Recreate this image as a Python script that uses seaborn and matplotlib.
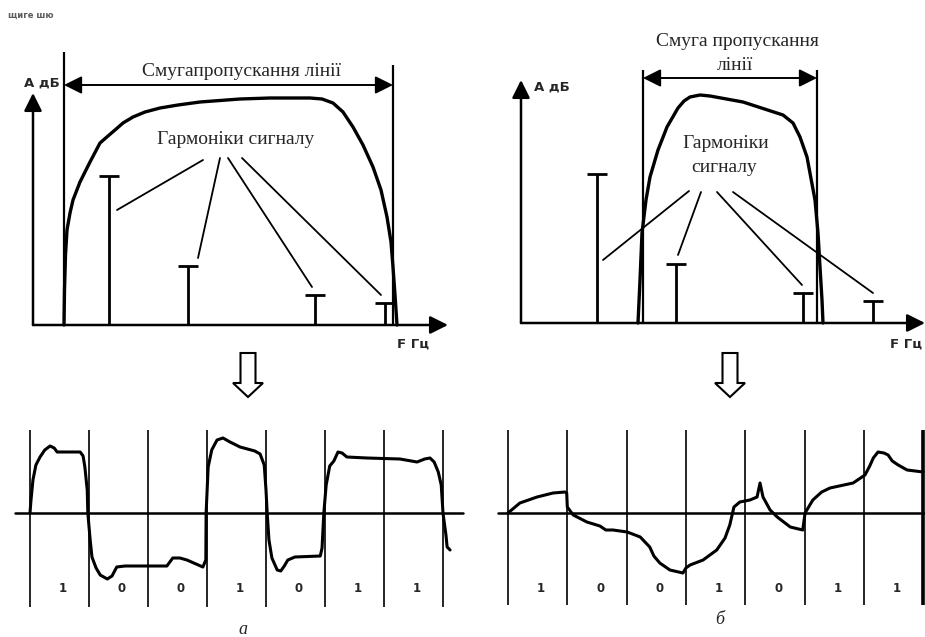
import matplotlib
matplotlib.use("Agg")
import matplotlib.pyplot as plt
import seaborn as sns
from matplotlib.patches import FancyArrow

sns.set_style("white")
plt.rcParams["font.family"] = ["Liberation Serif", "DejaVu Serif"]

W, H = 925, 637

# --- спектр: АЧХ лінії (а - широка смуга) ---
band_a_f = [31, 31.5, 32.5, 34, 37, 40, 47, 57, 67, 75, 82, 90, 100, 112, 127, 145, 167, 207,
            237, 277, 289, 300, 310, 320, 330, 340, 348, 354, 358, 360, 362, 364]
band_a_A = [0, 35, 70, 95, 112, 125, 143, 163, 182, 189, 195, 202, 208, 213, 217, 220, 223,
            226, 227, 227, 226, 222, 213, 198, 180, 158, 135, 108, 83, 58, 30, 0]
edges_a = [31, 360]

# --- спектр: АЧХ лінії (б - вузька смуга) ---
band_b_f = [117, 119, 121, 125, 129, 137, 146, 157, 163, 169, 179, 189, 222, 262, 272, 279,
            286, 294, 297, 299, 301, 302]
band_b_A = [0, 43, 90, 123, 146, 173, 196, 215, 222, 226, 228, 227, 221, 208, 200, 186,
            166, 123, 90, 56, 23, 0]
edges_b = [122, 296]

# гармоніки сигналу
harm_f = [76, 155, 282, 352]
harm_A = [149, 59, 30, 22]

# --- часові діаграми ---
bits = ["1", "0", "0", "1", "0", "1", "1"]

sig_a_t = [0, 0.017, 0.05, 0.10, 0.17, 0.25, 0.34, 0.41, 0.46, 0.54, 0.85, 0.90, 0.93, 0.97,
           0.98, 1.02, 1.05, 1.12, 1.19, 1.31, 1.39, 1.47, 1.61, 2.32, 2.42, 2.54, 2.66, 2.93,
           2.98, 2.985, 3.02, 3.08, 3.17, 3.27, 3.39, 3.56, 3.81, 3.90, 3.97, 4.0, 4.02, 4.05,
           4.10, 4.19, 4.25, 4.31, 4.37, 4.49, 4.92, 4.95, 4.98, 5.02, 5.08, 5.15, 5.22, 5.29,
           5.37, 5.71, 6.27, 6.56, 6.69, 6.78, 6.85, 6.92, 6.97, 7.0, 7.05, 7.07, 7.12]
sig_a_L = [0, 13, 33, 48, 56, 63, 67, 65, 61, 61, 61, 57, 46, 23,
           0, -27, -44, -55, -62, -66, -63, -54, -53, -53, -45, -45, -47, -54,
           -47, 0, 46, 63, 73, 75, 71, 66, 62, 59, 48, 23, 0, -27,
           -45, -57, -58, -53, -47, -44, -43, -35, 0, 28, 47, 52, 61, 60,
           56, 55, 54, 51, 54, 55, 51, 41, 28, 0, -22, -34, -37]

sig_b_t = [0, 0.20, 0.49, 0.76, 0.96, 0.99, 1.0, 1.10, 1.33, 1.55, 1.65, 1.77, 2.01, 2.23,
           2.39, 2.46, 2.56, 2.73, 2.95, 3.0, 3.07, 3.29, 3.52, 3.66, 3.74, 3.81, 3.91, 4.08,
           4.20, 4.25, 4.30, 4.42, 4.54, 4.76, 4.97, 5.01, 5.14, 5.29, 5.43, 5.82, 6.02, 6.10,
           6.16, 6.24, 6.34, 6.41, 6.48, 6.58, 6.73, 7.0]
sig_b_L = [0, 10, 16, 20, 21, 20, 6, -2, -9, -13, -17, -17, -19, -24,
           -34, -43, -50, -57, -60, -55, -52, -47, -37, -25, -12, 6, 11, 13,
           16, 30, 16, 3, -4, -14, -17, 0, 13, 21, 25, 30, 38, 47,
           55, 61, 60, 58, 52, 48, 43, 41]

fig = plt.figure(figsize=(W / 100, H / 100), dpi=100)


def layer(x0, y0, sx, sy):
    # осі на весь рисунок: точка (0,0) даних -> піксель (x0, y0)
    ax = fig.add_axes([0, 0, 1, 1])
    ax.set_xlim(-x0 / sx, (W - x0) / sx)
    ax.set_ylim(-(H - y0) / sy, y0 / sy)
    ax.axis("off")
    ax.patch.set_alpha(0)
    return ax


def arrow(ax, start, tip, style="-|>", lw=1.8):
    ax.annotate("", xy=tip, xytext=start,
                arrowprops=dict(arrowstyle=style + ",head_length=0.6,head_width=0.3",
                                lw=lw, color="black", mutation_scale=18,
                                shrinkA=0, shrinkB=0))


def spectrum(ax, f, A, edges, edge_top, arrow_y, x_tip, y_tip, leaders):
    arrow(ax, (0, 0), (x_tip, 0))
    arrow(ax, (0, 0), (0, y_tip))
    ax.vlines(edges[0], 0, edge_top[0], color="black", lw=1.6)
    ax.vlines(edges[1], 0, edge_top[1], color="black", lw=1.6)
    arrow(ax, (edges[0], arrow_y), (edges[1], arrow_y), style="<|-|>", lw=1.4)
    sns.lineplot(x=f, y=A, ax=ax, color="black", lw=2.4, sort=False, estimator=None,
                 solid_joinstyle="round", solid_capstyle="round")
    ax.vlines(harm_f, 0, harm_A, color="black", lw=2.0)
    ax.hlines(harm_A, [v - 10 for v in harm_f], [v + 10 for v in harm_f], color="black", lw=2.0)
    for (x1, y1), (x2, y2) in leaders:
        ax.plot([x1, x2], [y1, y2], color="black", lw=1.3)


ax_a = layer(33, 325, 1, 1)
spectrum(ax_a, band_a_f, band_a_A, edges_a, [273, 260], 240, 415, 232,
         [((170, 165), (84, 115)), ((187, 167), (165, 67)),
          ((195, 167), (279, 38)), ((209, 167), (348, 30))])

ax_b = layer(521, 323, 1, 1)
spectrum(ax_b, band_b_f, band_b_A, edges_b, [253, 253], 245, 404, 243,
         [((168, 132), (82, 63)), ((180, 131), (157, 68)),
          ((196, 131), (281, 38)), ((212, 131), (352, 30))])


def timing(ax, t, L, left, right, top, bottom):
    ax.plot([left, right], [0, 0], color="black", lw=1.8)
    ax.vlines(range(8), bottom, top, color="black", lw=1.2)
    for i, b in enumerate(bits):
        ax.text(i + 0.56, -75, b, ha="center", va="center", fontsize=8.5,
                fontweight="bold", family="DejaVu Sans")
    sns.lineplot(x=t, y=L, ax=ax, color="black", lw=2.2, sort=False, estimator=None,
                 solid_joinstyle="round", solid_capstyle="round")


ax_c = layer(30, 513, 59, 1)
timing(ax_c, sig_a_t, sig_a_L, -0.25, 7.34, 83, -94)

ax_d = layer(508, 513, 59.3, 1)
timing(ax_d, sig_b_t, sig_b_L, -0.17, 7.2, 83, -92)
ax_d.vlines(7, -92, 83, color="black", lw=2.6)

# підписи та стрілки-переходи
ov = layer(0, 0, 1, -1)
ov.set_ylim(H, 0)

ov.text(8, 15, "щиге шю", fontsize=6, fontweight="bold", alpha=0.75,
        family="DejaVu Sans", va="center")

ov.text(241, 72, "Смугапропускання лінії", ha="center", va="center", fontsize=14)
ov.text(236, 140, "Гармоніки сигналу", ha="center", va="center", fontsize=14)
ov.text(737, 42, "Смуга пропускання", ha="center", va="center", fontsize=14)
ov.text(735, 65, "лінії", ha="center", va="center", fontsize=14)
ov.text(726, 143, "Гармоніки", ha="center", va="center", fontsize=14)
ov.text(724, 168, "сигналу", ha="center", va="center", fontsize=14)

for x, y, s in [(42, 83, "A дБ"), (552, 87, "A дБ"), (413, 344, "F Гц"), (906, 344, "F Гц")]:
    ov.text(x, y, s, ha="center", va="center", fontsize=9.5, fontweight="bold",
            family="DejaVu Sans")

for x in [248, 730]:
    ov.add_patch(FancyArrow(x, 353, 0, 44, width=15, head_width=30, head_length=14,
                            length_includes_head=True, fill=False, lw=1.5, color="black"))

ov.text(243, 630, "а", ha="center", va="center", fontsize=13, style="italic")
ov.text(720, 620, "б", ha="center", va="center", fontsize=13, style="italic")

fig.savefig("out.png", dpi=100)
